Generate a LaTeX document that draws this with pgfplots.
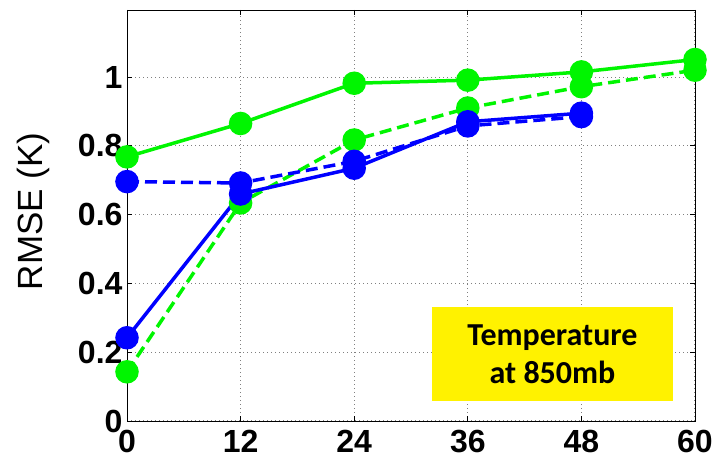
\documentclass[border=0pt]{standalone}
\usepackage{fontspec}
\setmainfont{Liberation Sans}
\newfontfamily\calfont{Carlito}
\usepackage{pgfplots}
\pgfplotsset{compat=1.18}
\definecolor{mgreen}{RGB}{0,245,0}
\definecolor{mblue}{RGB}{0,0,255}
\begin{document}
\begin{tikzpicture}
\path[use as bounding box] (0,0) rectangle (715pt,465pt);
\begin{axis}[
  at={(127pt,44pt)}, anchor=south west,
  scale only axis, width=568pt, height=411pt,
  xmin=0, xmax=60, ymin=0, ymax=1.195,
  xtick={0,12,24,36,48,60},
  ytick={0,0.2,0.4,0.6,0.8,1},
  yticklabels={0,0.2,0.4,0.6,0.8,1},
  tick align=inside, major tick length=5pt,
  xtick pos=both, ytick pos=both,
  tick style={black, line width=0.8pt},
  axis line style={black, line width=0.8pt},
  grid=major,
  major grid style={gray, line width=1pt, dash pattern=on 1pt off 3pt},
  /pgf/number format/assume math mode=true,
  ticklabel style={font=\fontsize{32}{32}\selectfont\bfseries},
  yticklabel style={xshift=-1pt},
  xticklabel style={yshift=-6pt},
  ylabel={RMSE (K)},
  ylabel style={at={(axis description cs:-0.164,0.51)}, anchor=center, rotate=0, font=\fontsize{35}{35}\selectfont},
  clip=false,
  every axis plot/.append style={line width=3.5pt, mark=*, mark size=10pt, mark options={solid}},
]
\addplot[mgreen] coordinates {(0,0.768)(12,0.865)(24,0.982)(36,0.991)(48,1.015)(60,1.051)};
\addplot[mgreen, dash pattern=on 12pt off 6pt] coordinates {(0,0.143)(12,0.634)(24,0.817)(36,0.910)(48,0.972)(60,1.020)};
\addplot[mblue] coordinates {(0,0.242)(12,0.660)(24,0.735)(36,0.870)(48,0.895)};
\addplot[mblue, dash pattern=on 12pt off 6pt] coordinates {(0,0.696)(12,0.692)(24,0.755)(36,0.858)(48,0.885)};
\node[fill=yellow, minimum width=241pt, minimum height=94pt, inner sep=0pt, align=center,
  font=\calfont\bfseries\fontsize{32}{38}\selectfont] at (axis cs:44.95,0.195) {Temperature\\at 850mb};
\end{axis}
\end{tikzpicture}
\end{document}
